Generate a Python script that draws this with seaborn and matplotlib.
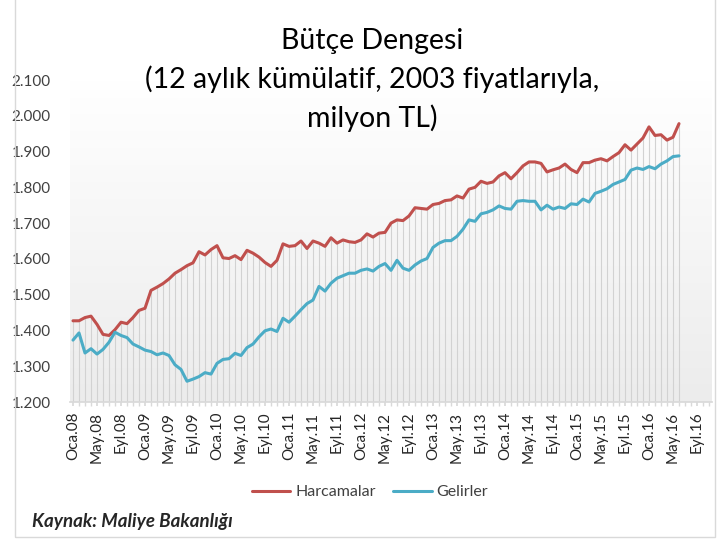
import matplotlib
matplotlib.use("Agg")
import matplotlib.pyplot as plt
import seaborn as sns
import numpy as np
import pandas as pd
from matplotlib.colors import LinearSegmentedColormap
from matplotlib.patches import Rectangle


# monthly values, Oca.08 .. Haz.16 (milyon TL, 2003 prices)
harcamalar = [
    1427, 1427, 1436, 1440, 1417, 1389, 1386, 1402, 1423, 1419,
    1436, 1456, 1462, 1512, 1521, 1531, 1544, 1560, 1570, 1581,
    1589, 1620, 1611, 1626, 1637, 1603, 1601, 1609, 1598, 1624,
    1616, 1605, 1590, 1579, 1596, 1642, 1635, 1637, 1650, 1629,
    1650, 1644, 1635, 1659, 1644, 1653, 1648, 1646, 1653, 1670,
    1661, 1672, 1674, 1700, 1709, 1707, 1720, 1743, 1741, 1739,
    1752, 1755, 1763, 1765, 1776, 1770, 1795, 1800, 1817, 1811,
    1815, 1832, 1841, 1824, 1841, 1860, 1871, 1871, 1867, 1843,
    1849, 1854, 1865, 1850, 1841, 1869, 1869, 1876, 1880, 1874,
    1886, 1897, 1919, 1904, 1921, 1938, 1969, 1945, 1947, 1932,
    1940, 1978,
]
gelirler = [
    1373, 1393, 1337, 1349, 1334, 1347, 1367, 1395, 1386, 1380,
    1362, 1354, 1345, 1341, 1332, 1337, 1330, 1304, 1291, 1258,
    1264, 1271, 1282, 1278, 1308, 1319, 1321, 1336, 1330, 1352,
    1362, 1382, 1399, 1404, 1397, 1434, 1423, 1440, 1458, 1475,
    1485, 1523, 1510, 1532, 1546, 1553, 1560, 1560, 1568, 1572,
    1566, 1579, 1587, 1568, 1596, 1574, 1568, 1583, 1594, 1601,
    1632, 1644, 1651, 1651, 1663, 1683, 1709, 1705, 1726, 1730,
    1737, 1748, 1741, 1739, 1761, 1763, 1761, 1761, 1737, 1750,
    1739, 1745, 1741, 1754, 1752, 1767, 1759, 1783, 1789, 1796,
    1808, 1815, 1822, 1848, 1854, 1850, 1858, 1852, 1865, 1874,
    1886, 1888,
]

# every 4th month gets a label (Oca, May, Eyl)
tick_labels = [
    "Oca.08", "May.08", "Eyl.08", "Oca.09", "May.09", "Eyl.09",
    "Oca.10", "May.10", "Eyl.10", "Oca.11", "May.11", "Eyl.11",
    "Oca.12", "May.12", "Eyl.12", "Oca.13", "May.13", "Eyl.13",
    "Oca.14", "May.14", "Eyl.14", "Oca.15", "May.15", "Eyl.15",
    "Oca.16", "May.16", "Eyl.16",
]
y_ticks = [1200, 1300, 1400, 1500, 1600, 1700, 1800, 1900, 2000, 2100]
y_labels = ["1.200", "1.300", "1.400", "1.500", "1.600",
            "1.700", "1.800", "1.900", "2.000", "2.100"]

RED = "#C0504D"
BLUE = "#4BACC6"

sns.set_theme(style="white")
plt.rcParams["font.family"] = ["Lato", "DejaVu Sans"]

n = len(harcamalar)
months = np.arange(n)
df = pd.DataFrame({
    "ay": np.concatenate([months, months]),
    "deger": harcamalar + gelirler,
    "seri": ["Harcamalar"] * n + ["Gelirler"] * n,
})

fig = plt.figure(figsize=(7.21, 5.39), dpi=100)
ax = fig.add_axes([70 / 721, 137 / 539, 642 / 721, 322 / 539])

ax.set_xlim(-0.5, 106.5)
ax.set_ylim(1200, 2100)

# soft gradient behind the plot area
grad = LinearSegmentedColormap.from_list("g", ["#ececec", "#ffffff"])
ax.imshow(np.linspace(0, 1, 256).reshape(-1, 1), cmap=grad, aspect="auto",
          extent=[0, 1, 0, 1], transform=ax.transAxes, origin="lower", zorder=0)

# drop lines from the top series to the axis
ax.vlines(months, 1200, np.maximum(harcamalar, gelirler),
          color="#d2d2d2", lw=0.8, zorder=1)

sns.lineplot(data=df, x="ay", y="deger", hue="seri",
             palette={"Harcamalar": RED, "Gelirler": BLUE},
             linewidth=2.2, ax=ax, zorder=3)

ax.set_xticks(np.arange(0, 4 * len(tick_labels), 4))
ax.set_xticklabels(tick_labels, rotation=90, fontsize=11, color="#262626")
ax.set_xticks(np.arange(0, 107), minor=True)
ax.tick_params(axis="x", which="both", direction="out", length=3,
               color="#d9d9d9", bottom=True, pad=4)
ax.set_yticks(y_ticks)
ax.set_yticklabels(y_labels, fontsize=11, color="#404040")
ax.tick_params(axis="y", length=0, pad=14)
ax.set_xlabel("")
ax.set_ylabel("")

for s in ["top", "right", "left"]:
    ax.spines[s].set_visible(False)
ax.spines["bottom"].set_color("#d9d9d9")
ax.spines["bottom"].set_zorder(4)

fig.text(372 / 721, 1 - 28 / 539,
         "Bütçe Dengesi\n(12 aylık kümülatif, 2003 fiyatlarıyla,\nmilyon TL)",
         ha="center", va="top", fontsize=20.5, color="#000000", linespacing=1.5)

ax.legend(loc="center", bbox_to_anchor=(370 / 721, 1 - 492 / 539),
          bbox_transform=fig.transFigure, ncol=2, frameon=False,
          fontsize=11.5, handlelength=2.4, columnspacing=1.1, handletextpad=0.3)
for t in ax.get_legend().get_texts():
    t.set_color("#404040")

fig.text(32 / 721, 1 - 521 / 539, "Kaynak: Maliye Bakanlığı",
         fontsize=13.5, fontweight="bold", style="italic", va="center")

# outer chart border
fig.patches.append(Rectangle((15 / 721, 2 / 539), 700 / 721, 600 / 539,
                             transform=fig.transFigure, fill=False,
                             ec="#d9d9d9", lw=1))

fig.savefig("out.png", dpi=100)
